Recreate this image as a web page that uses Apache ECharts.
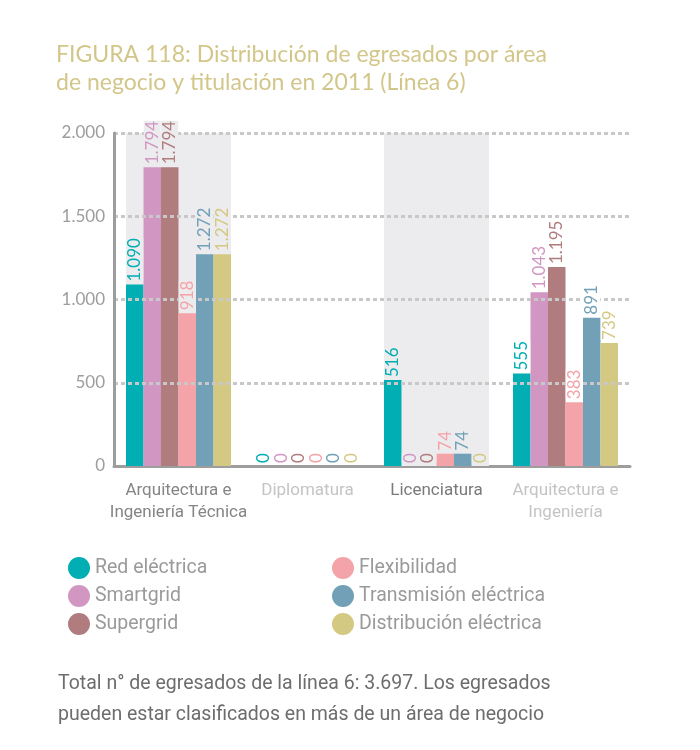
<!DOCTYPE html>
<html><head><meta charset="utf-8">
<script src="https://cdn.jsdelivr.net/npm/echarts@6/dist/echarts.min.js"></script>
<style>html,body{margin:0;padding:0;background:#fff}#c{width:700px;height:750px}</style>
</head><body><div id="c"></div>
<script>
const categories = ['Arquitectura e\nIngeniería Técnica', 'Diplomatura', 'Licenciatura', 'Arquitectura e\nIngeniería'];
const categoryColors = ['#858585', '#c4c4c4', '#7a7a7a', '#c4c4c4'];
const seriesNames = ['Red eléctrica', 'Smartgrid', 'Supergrid', 'Flexibilidad', 'Transmisión eléctrica', 'Distribución eléctrica'];
const seriesColors = ['#00aeb3', '#d196c2', '#b07c7e', '#f4a3a8', '#72a1b7', '#d4c983'];
const redElectrica = [1090, 0, 516, 555];
const smartgrid = [1794, 0, 0, 1043];
const supergrid = [1794, 0, 0, 1195];
const flexibilidad = [918, 0, 74, 383];
const transmision = [1272, 0, 74, 891];
const distribucion = [1272, 0, 0, 739];
const shadedBands = [2000, '-', 2000, '-'];
const yTicks = [0, 500, 1000, 1500, 2000];
const titleText = 'FIGURA 118: Distribución de egresados por área\nde negocio y titulación en 2011 (Línea 6)';
const footnote = 'Total n° de egresados de la línea 6: 3.697. Los egresados\npueden estar clasificados en más de un área de negocio';

const values = [redElectrica, smartgrid, supergrid, flexibilidad, transmision, distribucion];
const fmt = v => String(v).replace(/\B(?=(\d{3})+(?!\d))/g, '.');
const GAP = '18.6%';
const BAND = '#ececee';

const chart = echarts.init(document.getElementById('c'), null, {renderer: 'canvas'});
const series = [{
  type: 'bar', xAxisIndex: 1, data: shadedBands, barCategoryGap: GAP,
  itemStyle: {color: BAND}, silent: true, z: 0, legendHoverLink: false
}];
seriesNames.forEach((n, i) => {
  series.push({
    name: n, type: 'bar', data: values[i], barGap: '0%', barCategoryGap: GAP,
    itemStyle: {color: seriesColors[i]}, z: 2
  });
});
// label layer drawn above the gridlines
seriesNames.forEach((n, i) => {
  series.push({
    type: 'bar', xAxisIndex: 2, barGap: '0%', barCategoryGap: GAP,
    data: values[i].map((v, j) => ({value: v, label: {backgroundColor: shadedBands[j] === '-' ? '#ffffff' : BAND}})),
    itemStyle: {color: 'rgba(0,0,0,0)'}, z: 20, zlevel: 1, silent: true,
    label: {show: true, position: 'top', rotate: 90, align: 'left', verticalAlign: 'middle', padding: [0, 0, 0, 0],
      distance: 3, color: seriesColors[i], fontSize: 17, fontFamily: 'Lato', formatter: p => fmt(p.value)}
  });
});
chart.setOption({
  animation: false,
  title: [
    {text: titleText, left: 51, top: 36, textStyle: {color: '#d3c68a', fontSize: 23, fontWeight: 'normal', fontFamily: 'Lato', lineHeight: 28}},
    {text: footnote, left: 53, top: 664, textStyle: {color: '#6d6d6d', fontSize: 19.5, fontWeight: 'normal', fontFamily: 'Roboto', lineHeight: 31}}
  ],
  legend: [
    {data: seriesNames.slice(0, 3), orient: 'vertical', left: 63, top: 552, icon: 'circle', itemWidth: 22, itemHeight: 22, itemGap: 6,
      textStyle: {color: '#9a9a9a', fontSize: 19.5, fontFamily: 'Roboto'}, selectedMode: false},
    {data: seriesNames.slice(3), orient: 'vertical', left: 327, top: 552, icon: 'circle', itemWidth: 22, itemHeight: 22, itemGap: 6,
      textStyle: {color: '#9a9a9a', fontSize: 19.5, fontFamily: 'Roboto'}, selectedMode: false}
  ],
  grid: {left: 114, right: 70, top: 133, bottom: 284, containLabel: false},
  xAxis: [
    {type: 'category', data: categories, offset: 3,
      axisLine: {lineStyle: {color: '#9d9d9d', width: 3}}, axisTick: {show: false},
      axisLabel: {margin: 11, fontSize: 17, fontFamily: 'Roboto', lineHeight: 22, interval: 0,
        color: (v, i) => categoryColors[i]}},
    {type: 'category', data: categories, show: false},
    {type: 'category', data: categories, show: false}
  ],
  yAxis: {type: 'value', min: yTicks[0], max: yTicks[yTicks.length - 1], interval: 500, z: 10,
    axisLine: {show: true, lineStyle: {color: '#9d9d9d', width: 3}}, axisTick: {show: false},
    axisLabel: {color: '#9d9d9d', fontSize: 17, fontFamily: 'Lato', margin: 9, formatter: v => fmt(v)},
    splitLine: {show: true, showMinLine: false, lineStyle: {color: '#c8c8c8', width: 3, type: [4, 3]}}},
  series: series
});
</script></body></html>
